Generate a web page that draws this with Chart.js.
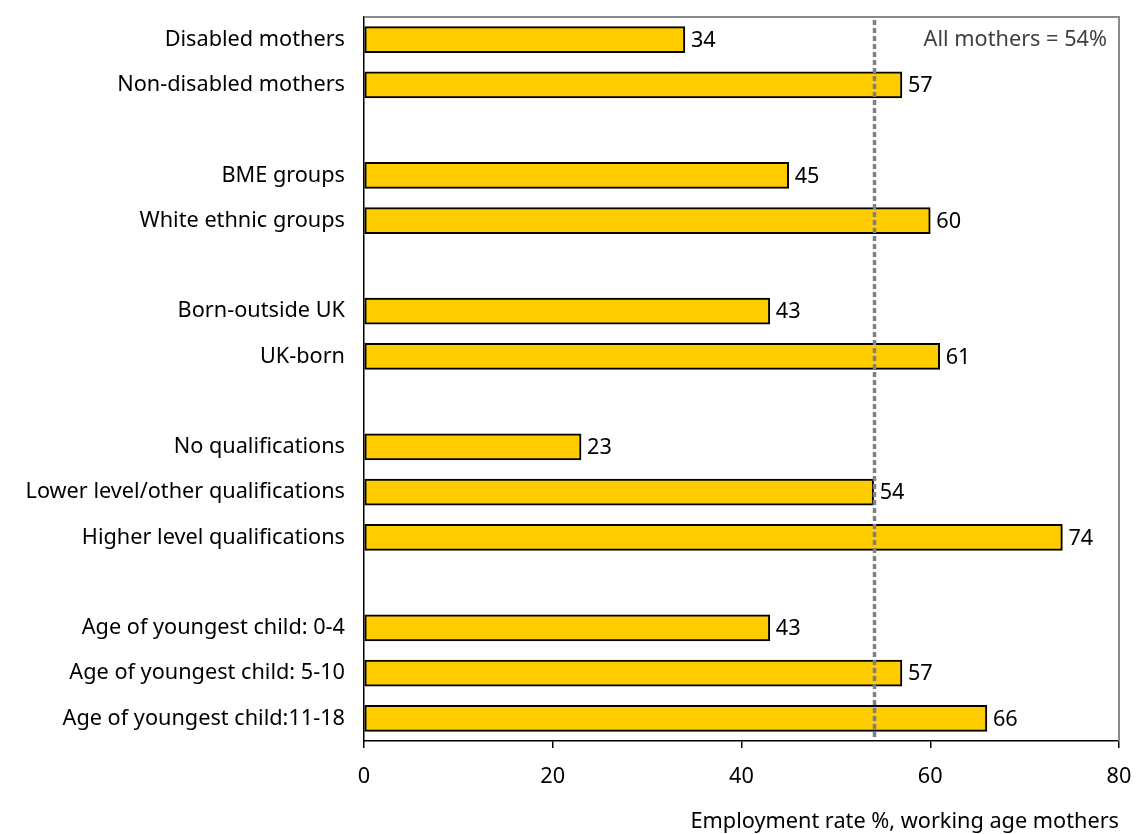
<!DOCTYPE html>
<html>
<head>
<meta charset="utf-8">
<script src="https://cdn.jsdelivr.net/npm/chart.js@4/dist/chart.umd.min.js"></script>
<style>
  html, body { margin: 0; padding: 0; background: #ffffff; }
  canvas { display: block; }
</style>
</head>
<body>
<canvas id="chart" width="1136" height="834"></canvas>
<script>
// Employment rates of working age mothers by group (blank entries separate the groups)
const categories = [
  'Disabled mothers',
  'Non-disabled mothers',
  '',
  'BME groups',
  'White ethnic groups',
  '',
  'Born-outside UK',
  'UK-born',
  '',
  'No qualifications',
  'Lower level/other qualifications',
  'Higher level qualifications',
  '',
  'Age of youngest child: 0-4',
  'Age of youngest child: 5-10',
  'Age of youngest child:11-18'
];
const rates = [34, 57, null, 45, 60, null, 43, 61, null, 23, 54, 74, null, 43, 57, 66];
const xTicks = [0, 20, 40, 60, 80];
const allMothersRate = 54;
const allMothersLabel = 'All mothers = 54%';
const axisTitle = 'Employment rate %, working age mothers';

const FONT = '"Noto Sans", "Open Sans", sans-serif';
const FONT_SIZE = 21.7;

// Keep the plot area fixed: scales do not reserve extra room for overhanging labels
function clearScalePadding(scale) {
  scale.paddingTop = 0;
  scale.paddingBottom = 0;
  scale.paddingLeft = 0;
  scale.paddingRight = 0;
}

// Grey frame on the top and right of the plot area
const plotFramePlugin = {
  id: 'plotFrame',
  afterDraw(chart) {
    const ctx = chart.ctx;
    const a = chart.chartArea;
    ctx.save();
    ctx.setLineDash([]);
    ctx.strokeStyle = '#8a8a8a';
    ctx.lineWidth = 2;
    ctx.beginPath();
    ctx.moveTo(a.left + 1, a.top);
    ctx.lineTo(a.right, a.top);
    ctx.lineTo(a.right, a.bottom);
    ctx.stroke();
    ctx.restore();
  }
};

// Value labels at the end of each bar
const valueLabelPlugin = {
  id: 'valueLabels',
  afterDatasetsDraw(chart) {
    const { ctx } = chart;
    const meta = chart.getDatasetMeta(0);
    ctx.save();
    ctx.font = FONT_SIZE + 'px ' + FONT;
    ctx.fillStyle = '#000000';
    ctx.textAlign = 'left';
    ctx.textBaseline = 'middle';
    meta.data.forEach((bar, i) => {
      const v = rates[i];
      if (v === null) return;
      ctx.fillText(String(v), bar.x + 6, bar.y + 1);
    });
    ctx.restore();
  }
};

// Dotted reference line for all mothers, its caption and the axis title
const referencePlugin = {
  id: 'reference',
  afterDatasetsDraw(chart) {
    const { ctx, chartArea: a, scales } = chart;
    const x = Math.round(scales.x.getPixelForValue(allMothersRate)) + 0.5;
    ctx.save();
    ctx.strokeStyle = '#808080';
    ctx.lineWidth = 3.5;
    ctx.setLineDash([5, 3]);
    ctx.beginPath();
    ctx.moveTo(x, a.top + 3);
    ctx.lineTo(x, a.bottom - 2);
    ctx.stroke();
    ctx.setLineDash([]);

    ctx.font = FONT_SIZE + 'px ' + FONT;
    ctx.fillStyle = '#404040';
    ctx.textAlign = 'right';
    ctx.textBaseline = 'middle';
    ctx.fillText(allMothersLabel, a.right - 12, 40);

    ctx.fillStyle = '#000000';
    ctx.fillText(axisTitle, a.right, 822);
    ctx.restore();
  }
};

new Chart(document.getElementById('chart'), {
  type: 'bar',
  data: {
    labels: categories,
    datasets: [{
      data: rates,
      backgroundColor: '#FFCC00',
      borderColor: '#000000',
      borderWidth: 2,
      borderSkipped: false,
      barThickness: 26
    }]
  },
  options: {
    indexAxis: 'y',
    responsive: false,
    devicePixelRatio: 1,
    animation: false,
    layout: { padding: { left: 0, right: 17, top: 17, bottom: 0 } },
    plugins: {
      legend: { display: false },
      tooltip: { enabled: false }
    },
    scales: {
      x: {
        type: 'linear',
        min: xTicks[0],
        max: xTicks[xTicks.length - 1],
        afterFit(scale) { scale.height = 93; clearScalePadding(scale); },
        afterBuildTicks(scale) { scale.ticks = xTicks.map(v => ({ value: v })); },
        ticks: {
          font: { family: FONT, size: FONT_SIZE },
          color: '#000000',
          padding: 16
        },
        grid: {
          drawOnChartArea: false,
          drawTicks: true,
          tickLength: 7,
          color: '#000000',
          lineWidth: 1.5
        },
        border: { display: true, color: '#000000', width: 1.5 }
      },
      y: {
        afterFit(scale) { scale.width = 364; clearScalePadding(scale); },
        ticks: {
          font: { family: FONT, size: FONT_SIZE },
          color: '#000000',
          padding: 19,
          autoSkip: false
        },
        grid: { display: false, drawTicks: false },
        border: { display: true, color: '#000000', width: 1.5 }
      }
    }
  },
  plugins: [plotFramePlugin, valueLabelPlugin, referencePlugin]
});
</script>
</body>
</html>
